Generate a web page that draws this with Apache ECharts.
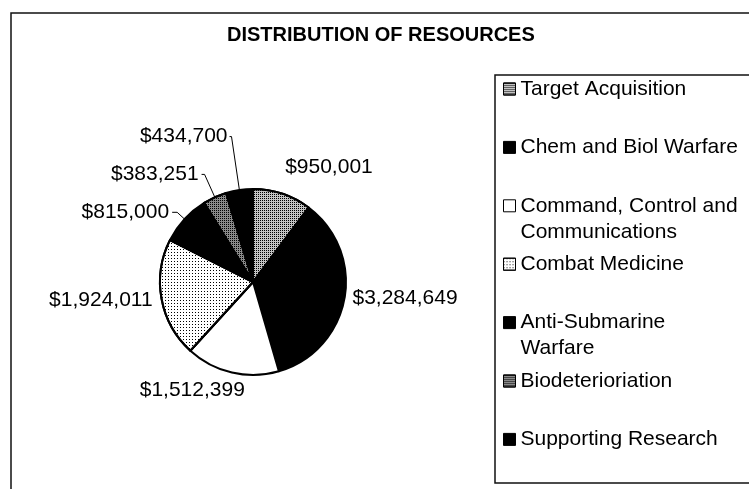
<!DOCTYPE html>
<html>
<head>
<meta charset="utf-8">
<title>Distribution of Resources</title>
<script src="https://cdn.jsdelivr.net/npm/echarts@6/dist/echarts.min.js"></script>
<style>
  html, body { margin: 0; padding: 0; background: #fff; }
  #chart { width: 749px; height: 489px; }
</style>
</head>
<body>
<div id="chart"></div>
<script>
// data, clockwise from 12 o'clock
var categories = [
  'Target Acquisition',
  'Chem and Biol Warfare',
  'Command, Control and\nCommunications',
  'Combat Medicine',
  'Anti-Submarine\nWarfare',
  'Biodeterioriation',
  'Supporting Research'
];
var amounts = [950001, 3284649, 1512399, 1924011, 815000, 383251, 434700];

var FONT = 'Arial, "Liberation Sans", sans-serif';

// fills: black, white, and three stipple densities
function dots(step) {
  return { symbol: 'rect', symbolSize: 1, dashArrayX: [1, step], dashArrayY: [1, step], color: '#000', rotation: 0 };
}
var fills = [
  { color: '#c4c4c4', decal: dots(1) },   // target acq - medium stipple
  { color: '#000' },
  { color: '#fff' },
  { color: '#fff', decal: dots(2) },      // combat medicine - light stipple
  { color: '#000' },
  { color: '#8a8a8a', decal: dots(1) },   // biodeterioriation - dark stipple
  { color: '#000' }
];

// label placement per slice: [line length, line length2, distance, show line]
var labelTweak = [
  [28, 0, -6, false],
  [0, 3, 5, false],
  [18, 0, -17, false],
  [6, 0, 3, false],
  [10, 5, 3, true],
  [25, 3, 3, true],
  [54, 2, 2, true]
];

var pieData = [];
for (var i = 0; i < categories.length; i++) {
  var f = fills[i], t = labelTweak[i];
  var st = { color: f.color, borderColor: '#000', borderWidth: 2 };
  if (f.decal) st.decal = f.decal;
  pieData.push({
    name: categories[i],
    value: amounts[i],
    itemStyle: st,
    label: { distanceToLabelLine: t[2] },
    labelLine: { show: t[3], length: t[0], length2: t[1] }
  });
}

var chart = echarts.init(document.getElementById('chart'), null, { renderer: 'canvas' });

chart.setOption({
  backgroundColor: '#fff',
  animation: false,
  title: {
    text: 'DISTRIBUTION OF RESOURCES',
    left: 227,
    top: 25,
    padding: 0,
    textStyle: { fontFamily: FONT, fontSize: 20, fontWeight: 'bold', color: '#000' }
  },
  graphic: [
    { type: 'rect', shape: { x: 11, y: 13, width: 760, height: 500 },
      style: { fill: 'none', stroke: '#111', lineWidth: 1.5 }, silent: true },
    { type: 'rect', shape: { x: 495, y: 75, width: 300, height: 408 },
      style: { fill: 'none', stroke: '#111', lineWidth: 1.5 }, silent: true }
  ],
  legend: {
    orient: 'vertical',
    left: 503,
    top: 50,
    padding: 0,
    itemGap: -19.6,
    itemWidth: 12,
    itemHeight: 12,
    icon: 'rect',
    selectedMode: false,
    itemStyle: { borderColor: '#000', borderWidth: 1 },
    textStyle: { fontFamily: FONT, fontSize: 21, lineHeight: 26, color: '#000' },
    // three text lines per entry so the swatch sits beside the first line
    formatter: function (name) {
      return name.indexOf('\n') >= 0 ? ' \n' + name : ' \n' + name + '\n ';
    },
    data: categories
  },
  series: [{
    type: 'pie',
    center: [253, 282],
    radius: 93,
    startAngle: 90,
    clockwise: true,
    avoidLabelOverlap: false,
    label: {
      show: true,
      position: 'outside',
      fontFamily: FONT,
      fontSize: 21,
      color: '#000',
      formatter: function (p) { return '$' + p.value.toLocaleString('en-US'); }
    },
    labelLine: { lineStyle: { color: '#000', width: 1 }, smooth: false },
    emphasis: { disabled: true },
    data: pieData
  }]
});
</script>
</body>
</html>
